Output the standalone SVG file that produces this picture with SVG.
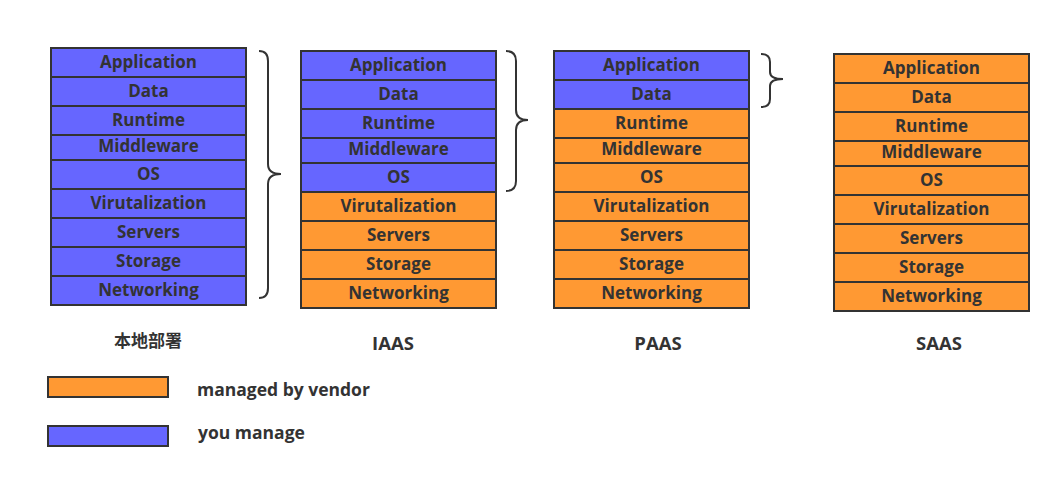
<svg xmlns="http://www.w3.org/2000/svg" width="1061" height="485" viewBox="0 0 1061 485">
<style>
.u{fill:#6666FF;stroke:#333;stroke-width:2}
.v{fill:#FF9933;stroke:#333;stroke-width:2}
.t{font-family:"Open Sans","Noto Sans",sans-serif;font-weight:bold;font-size:17px;fill:#333;text-anchor:middle;dominant-baseline:central}
.l{font-family:"Open Sans","Noto Sans","Noto Sans CJK SC",sans-serif;font-weight:bold;font-size:17px;fill:#333;text-anchor:middle;dominant-baseline:central}
.m{font-family:"Open Sans","Noto Sans",sans-serif;font-weight:bold;font-size:18.5px;fill:#333;text-anchor:middle;dominant-baseline:central}
.g{font-family:"Open Sans","Noto Sans",sans-serif;font-weight:bold;font-size:17.5px;fill:#333;dominant-baseline:central}
.b{fill:none;stroke:#333;stroke-width:2}
</style>
<rect width="1061" height="485" fill="#fff"/>
<defs>
<g id="labels">
<text class="t" x="97.5" y="13.5">Application</text>
<text class="t" x="97.5" y="42.5">Data</text>
<text class="t" x="97.5" y="71.5">Runtime</text>
<text class="t" x="97.5" y="97">Middleware</text>
<text class="t" x="97.5" y="125.5">OS</text>
<text class="t" x="97.5" y="154.5">Virutalization</text>
<text class="t" x="97.5" y="183.5">Servers</text>
<text class="t" x="97.5" y="212.5">Storage</text>
<text class="t" x="97.5" y="241.5">Networking</text>
</g>
</defs>
<g id="onprem" transform="translate(51,48)">
<rect class="u" x="0" y="0" width="195" height="29"/>
<rect class="u" x="0" y="29" width="195" height="29"/>
<rect class="u" x="0" y="58" width="195" height="29"/>
<rect class="u" x="0" y="87" width="195" height="25"/>
<rect class="u" x="0" y="112" width="195" height="29"/>
<rect class="u" x="0" y="141" width="195" height="29"/>
<rect class="u" x="0" y="170" width="195" height="29"/>
<rect class="u" x="0" y="199" width="195" height="29"/>
<rect class="u" x="0" y="228" width="195" height="29"/>
<use href="#labels"/>
<text class="l" x="97" y="292">本地部署</text>
</g>
<g id="iaas" transform="translate(301,51)">
<rect class="u" x="0" y="0" width="195" height="29"/>
<rect class="u" x="0" y="29" width="195" height="29"/>
<rect class="u" x="0" y="58" width="195" height="29"/>
<rect class="u" x="0" y="87" width="195" height="25"/>
<rect class="u" x="0" y="112" width="195" height="29"/>
<rect class="v" x="0" y="141" width="195" height="29"/>
<rect class="v" x="0" y="170" width="195" height="29"/>
<rect class="v" x="0" y="199" width="195" height="29"/>
<rect class="v" x="0" y="228" width="195" height="29"/>
<use href="#labels"/>
<text class="m" x="92" y="291">IAAS</text>
</g>
<g id="paas" transform="translate(554,51)">
<rect class="u" x="0" y="0" width="195" height="29"/>
<rect class="u" x="0" y="29" width="195" height="29"/>
<rect class="v" x="0" y="58" width="195" height="29"/>
<rect class="v" x="0" y="87" width="195" height="25"/>
<rect class="v" x="0" y="112" width="195" height="29"/>
<rect class="v" x="0" y="141" width="195" height="29"/>
<rect class="v" x="0" y="170" width="195" height="29"/>
<rect class="v" x="0" y="199" width="195" height="29"/>
<rect class="v" x="0" y="228" width="195" height="29"/>
<use href="#labels"/>
<text class="m" x="104" y="291">PAAS</text>
</g>
<g id="saas" transform="translate(834,54)">
<rect class="v" x="0" y="0" width="195" height="29"/>
<rect class="v" x="0" y="29" width="195" height="29"/>
<rect class="v" x="0" y="58" width="195" height="29"/>
<rect class="v" x="0" y="87" width="195" height="25"/>
<rect class="v" x="0" y="112" width="195" height="29"/>
<rect class="v" x="0" y="141" width="195" height="29"/>
<rect class="v" x="0" y="170" width="195" height="29"/>
<rect class="v" x="0" y="199" width="195" height="29"/>
<rect class="v" x="0" y="228" width="195" height="29"/>
<use href="#labels"/>
<text class="m" x="105" y="288">SAAS</text>
</g>
<g id="connectors">
<path class="b" d="M259 51 Q268 51 268 61 L268 164 Q268 174 281 174 Q268 174 268 184 L268 288 Q268 298 259 298"/>
<path class="b" d="M506 51 Q516 51 516 61 L516 110 Q516 120 528 120 Q516 120 516 130 L516 181 Q516 191 506 191"/>
<path class="b" d="M761 54 Q770 54 770 62 L770 72 Q770 79 783 79 Q770 79 770 86 L770 99 Q770 107 761 107"/>
</g>
<g id="legend">
<rect class="v" x="48" y="377" width="120" height="20"/>
<text class="g" x="197" y="389">managed by vendor</text>
<rect class="u" x="48" y="426" width="120" height="20"/>
<text class="g" x="198" y="432">you manage</text>
</g>
</svg>
